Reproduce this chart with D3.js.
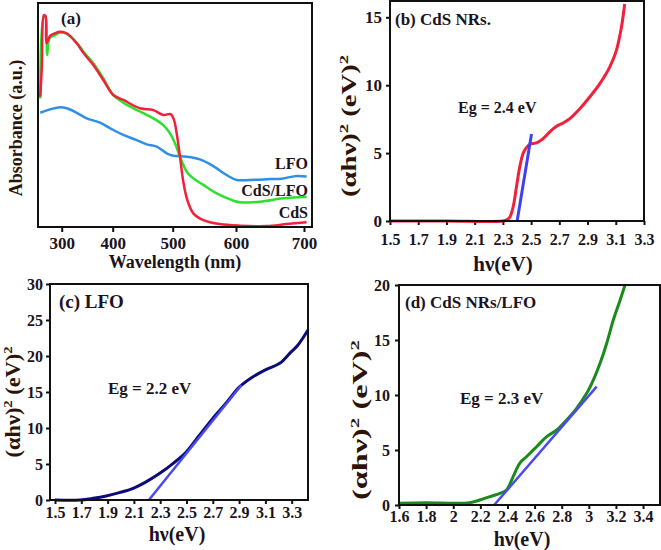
<!DOCTYPE html>
<html><head><meta charset="utf-8">
<script src="https://cdn.jsdelivr.net/npm/d3@7"></script>
<style>
body{margin:0;background:#fff;}
svg text{font-family:"Liberation Serif","DejaVu Serif","Times New Roman",serif !important;font-weight:bold;}
</style>
</head><body>
<svg id="chart" width="661" height="550" font-family="Liberation Serif, serif"></svg>
<script>
// ---------- Panel (a): absorbance spectra ----------
const wlTicks = [300, 400, 500, 600, 700];
const cdsAbs = [[257.5,58.2],[260.7,71.6],[264.7,94.6],[267.8,94.2],[270,82],[277,85.3],[287,86.5],[296.7,87.2],[309.8,86.5],[329.4,82],[342.4,77.8],[362,72.3],[381.6,65.6],[401,58.9],[417.7,56.7],[445.5,53],[467.7,52.2],[484.3,50],[496.7,50.4],[502,47.8],[506.3,41.8],[511.5,31.4],[516.8,20.2],[523.1,12],[532.6,6.1],[548.4,3.1],[574.8,1.3],[605.9,0.6],[645,0.4],[674.5,1.3],[703.9,2.1]];
const cdsLfoAbs = [[257.5,57.4],[264.7,93.9],[267.8,93.9],[271.2,76.8],[275.7,84.2],[287,85.7],[296.7,86.8],[309.8,86.2],[329.4,82.3],[342.4,78.3],[362,73.1],[381.6,66.4],[401,58.9],[417.7,55.5],[434.4,53],[451,50.8],[467.7,48.5],[484.3,45.5],[495.5,41.8],[503.6,37.4],[511.5,31.4],[522.1,24.7],[532.6,21.7],[548.4,18.8],[569.5,15],[595.8,11.8],[605.9,11],[635.3,11.3],[669.6,12.8],[703.9,13.5]];
const lfoAbs = [[257.5,51],[277,52.5],[293.4,53.4],[309.8,53],[329.4,51],[349,48.5],[375.1,46.6],[401,43.3],[417.7,41.1],[440,38.8],[456.7,36.9],[473.3,35.9],[490,32.9],[501,31.8],[522.1,31.4],[543.1,30.2],[564.1,27.2],[585.2,23.2],[601,21],[620.6,21],[645,21.3],[669.6,21.7],[689.3,22.8],[703.9,22.5]];
const seriesNamesA = ["LFO", "CdS/LFO", "CdS"];

// ---------- Panel (b): CdS NRs Tauc ----------
const ticksB = [1.5,1.7,1.9,2.1,2.3,2.5,2.7,2.9,3.1,3.3];
const yTicksB = [0,5,10,15];
const cdsTauc = [[1.5,0],[1.9,0],[2.3,0],[2.33,0.1],[2.35,0.3],[2.373,1.05],[2.396,2.5],[2.42,4.0],[2.444,5.0],[2.467,5.4],[2.49,5.65],[2.505,5.7],[2.538,5.75],[2.585,6.07],[2.632,6.56],[2.68,6.97],[2.727,7.22],[2.774,7.54],[2.845,8.27],[2.915,9.13],[2.986,10.1],[3.057,11.33],[3.104,12.55],[3.14,14.26],[3.163,15.98]];
const fitB = [[2.401,0],[2.503,6.4]];
const baseB = [[2.401,0],[3.3,0]];

// ---------- Panel (c): LFO Tauc ----------
const ticksC = [1.5,1.7,1.9,2.1,2.3,2.5,2.7,2.9,3.1,3.3];
const yTicksC = [0,5,10,15,20,25,30];
const lfoTauc = [[1.5,0],[1.69,0],[1.79,0.23],[1.89,0.56],[1.99,1.02],[2.095,1.62],[2.196,2.55],[2.297,3.7],[2.399,5.09],[2.5,6.71],[2.6,9.03],[2.7,11.34],[2.8,13.43],[2.905,15.74],[3.006,17.13],[3.108,18.15],[3.209,18.98],[3.285,20.37],[3.348,21.53],[3.424,23.6]];
const fitC = [[2.214,0],[2.918,15.97]];

// ---------- Panel (d): CdS NRs/LFO Tauc ----------
const ticksD = [1.6,1.8,2,2.2,2.4,2.6,2.8,3,3.2,3.4];
const yTicksD = [0,5,10,15,20];
const compTauc = [[1.6,0.15],[1.8,0.2],[2.0,0.15],[2.12,0.2],[2.196,0.45],[2.27,0.76],[2.344,1.06],[2.393,1.36],[2.442,2.58],[2.49,3.79],[2.54,4.39],[2.615,5.3],[2.689,6.21],[2.763,6.82],[2.836,7.73],[2.91,8.79],[2.984,10.15],[3.033,11.36],[3.083,12.88],[3.132,14.7],[3.18,16.8],[3.23,18.6],[3.267,20]];
const fitD = [[2.302,0],[3.058,10.76]];

const svg = d3.select("#chart");
const FONT = "'Liberation Serif','DejaVu Serif','Times New Roman',serif";
const txtCol = "#1b1320";
const titleCol = "#2e1408";

function frame(l,t,r,b){
  svg.append("rect").attr("x",l).attr("y",t).attr("width",r-l).attr("height",b-t)
    .attr("fill","none").attr("stroke","#111").attr("stroke-width",2);
}
function styleAxis(g, fs){
  g.attr("font-family",null);
  g.select(".domain").remove();
  g.selectAll("line").attr("stroke","#111").attr("stroke-width",2);
  g.selectAll("text").attr("fill",txtCol).style("font-size",fs+"px")
    .style("font-family",FONT).style("font-weight","bold");
}
function line(x,y){ return d3.line().x(d=>x(d[0])).y(d=>y(d[1])).curve(d3.curveCatmullRom.alpha(0.5)); }
function straight(x,y){ return d3.line().x(d=>x(d[0])).y(d=>y(d[1])); }
function label(x,y,t,fs,anchor,col){
  return svg.append("text").attr("x",x).attr("y",y).attr("text-anchor",anchor||"start")
    .attr("fill",col||txtCol).style("font-family",FONT).style("font-weight","bold").style("font-size",fs+"px").text(t);
}
function yTitle(cx,cy,fs,len){
  const t = svg.append("text").attr("transform",`translate(${cx},${cy}) rotate(-90)`)
    .attr("text-anchor","middle").attr("fill",titleCol).style("font-family",FONT).style("font-weight","bold").style("font-size",fs+"px")
    .attr("textLength",len).attr("lengthAdjust","spacingAndGlyphs");
  t.append("tspan").text("(αhν)");
  t.append("tspan").attr("dy",-8).style("font-size",(fs*0.65)+"px").text("2");
  t.append("tspan").attr("dy",8).text(" (eV)");
  t.append("tspan").attr("dy",-8).style("font-size",(fs*0.65)+"px").text("2");
}

// ===== Panel (a) =====
{
  const L=38,T=3,R=312,B=227;
  const x = d3.scaleLinear().domain([253,300,400,500,600,700,712]).range([38,61.7,112.7,172.7,236,304,312]);
  const y = d3.scaleLinear().domain([0,100]).range([B,T]);
  const ga = svg.append("g").attr("transform",`translate(0,${B})`)
    .call(d3.axisBottom(x).tickValues(wlTicks).tickFormat(d3.format("d")).tickSize(5).tickPadding(5));
  styleAxis(ga,17);
  const lg = line(x,y);
  svg.append("path").datum(lfoAbs).attr("d",lg).attr("fill","none").attr("stroke","#2f8ee6").attr("stroke-width",2.5);
  svg.append("path").datum(cdsLfoAbs).attr("d",lg).attr("fill","none").attr("stroke","#2ee02e").attr("stroke-width",2.5);
  svg.append("path").datum(cdsAbs).attr("d",lg).attr("fill","none").attr("stroke","#f2203a").attr("stroke-width",2.5);
  frame(L,T,R,B);
  label(308,169,seriesNamesA[0],16,"end");
  label(308,196,seriesNamesA[1],16,"end");
  label(308,218,seriesNamesA[2],16,"end");
  label(61,24,"(a)",17);
  label(175,268,"Wavelength (nm)",18,"middle");
  svg.append("text").attr("transform","translate(22,128) rotate(-90)").attr("text-anchor","middle")
    .attr("fill",titleCol).style("font-family",FONT).style("font-weight","bold").style("font-size","18px").text("Absorbance (a.u.)");
}

// ===== Panel (b) =====
{
  const L=390,T=1,R=644,B=221;
  const x = d3.scaleLinear().domain([1.5,3.3]).range([L,R]);
  const y = d3.scaleLinear().domain([0,16.2]).range([B,T]);
  const gx = svg.append("g").attr("transform",`translate(0,${B})`)
    .call(d3.axisBottom(x).tickValues(ticksB).tickFormat(d3.format(".1f")).tickSize(4).tickPadding(9));
  styleAxis(gx,16);
  const gy = svg.append("g").attr("transform",`translate(${L},0)`)
    .call(d3.axisLeft(y).tickValues(yTicksB).tickSize(4).tickPadding(4));
  styleAxis(gy,17);
  svg.append("path").datum(baseB).attr("d",straight(x,y)).attr("fill","none").attr("stroke","#2a2ad8").attr("stroke-width",1.5);
  svg.append("path").datum(cdsTauc).attr("d",line(x,y)).attr("fill","none").attr("stroke","#f2203a").attr("stroke-width",3);
  svg.append("path").datum(fitB).attr("d",straight(x,y)).attr("fill","none").attr("stroke","#4040f0").attr("stroke-width",3);
  frame(L,T,R,B);
  label(395,25,"(b) CdS NRs.",17);
  label(458,113,"Eg = 2.4 eV",16);
  label(503,271,"hν(eV)",21,"middle");
  yTitle(356,126,20,142);
}

// ===== Panel (c) =====
{
  const L=50,T=284,R=308,B=500;
  const x = d3.scaleLinear().domain([1.462,3.424]).range([L,R]);
  const y = d3.scaleLinear().domain([0,30]).range([B,T]);
  const gx = svg.append("g").attr("transform",`translate(0,${B})`)
    .call(d3.axisBottom(x).tickValues(ticksC).tickFormat(d3.format(".1f")).tickSize(4).tickPadding(3));
  styleAxis(gx,16);
  const gy = svg.append("g").attr("transform",`translate(${L},0)`)
    .call(d3.axisLeft(y).tickValues(yTicksC).tickSize(4).tickPadding(3));
  styleAxis(gy,16);
  svg.append("path").datum(lfoTauc).attr("d",line(x,y)).attr("fill","none").attr("stroke","#0c0c78").attr("stroke-width",3);
  svg.append("path").datum(fitC).attr("d",straight(x,y)).attr("fill","none").attr("stroke","#4a4af0").attr("stroke-width",2.5);
  frame(L,T,R,B);
  label(59,308,"(c) LFO",19);
  label(108,394,"Eg = 2.2 eV",17);
  label(177,541,"hν(eV)",20,"middle");
  yTitle(20,402,20,111);
}

// ===== Panel (d) =====
{
  const L=399,T=285,R=660,B=505;
  const x = d3.scaleLinear().domain([1.6,3.525]).range([L,R]);
  const y = d3.scaleLinear().domain([0,20]).range([B,T]);
  const gx = svg.append("g").attr("transform",`translate(0,${B})`)
    .call(d3.axisBottom(x).tickValues(ticksD).tickFormat(d=>String(+d.toFixed(1))).tickSize(4).tickPadding(2));
  styleAxis(gx,16);
  const gy = svg.append("g").attr("transform",`translate(${L},0)`)
    .call(d3.axisLeft(y).tickValues(yTicksD).tickSize(4).tickPadding(5));
  styleAxis(gy,16);
  svg.append("path").datum(compTauc).attr("d",line(x,y)).attr("fill","none").attr("stroke","#1a8a1a").attr("stroke-width",3);
  svg.append("path").datum(fitD).attr("d",straight(x,y)).attr("fill","none").attr("stroke","#4a4af0").attr("stroke-width",2.5);
  frame(L,T,R,B);
  label(405,308,"(d) CdS NRs/LFO",17);
  label(460,404,"Eg = 2.3 eV",17);
  label(522,546,"hν(eV)",20,"middle");
  yTitle(367,420,20,160);
}
</script>
</body></html>
